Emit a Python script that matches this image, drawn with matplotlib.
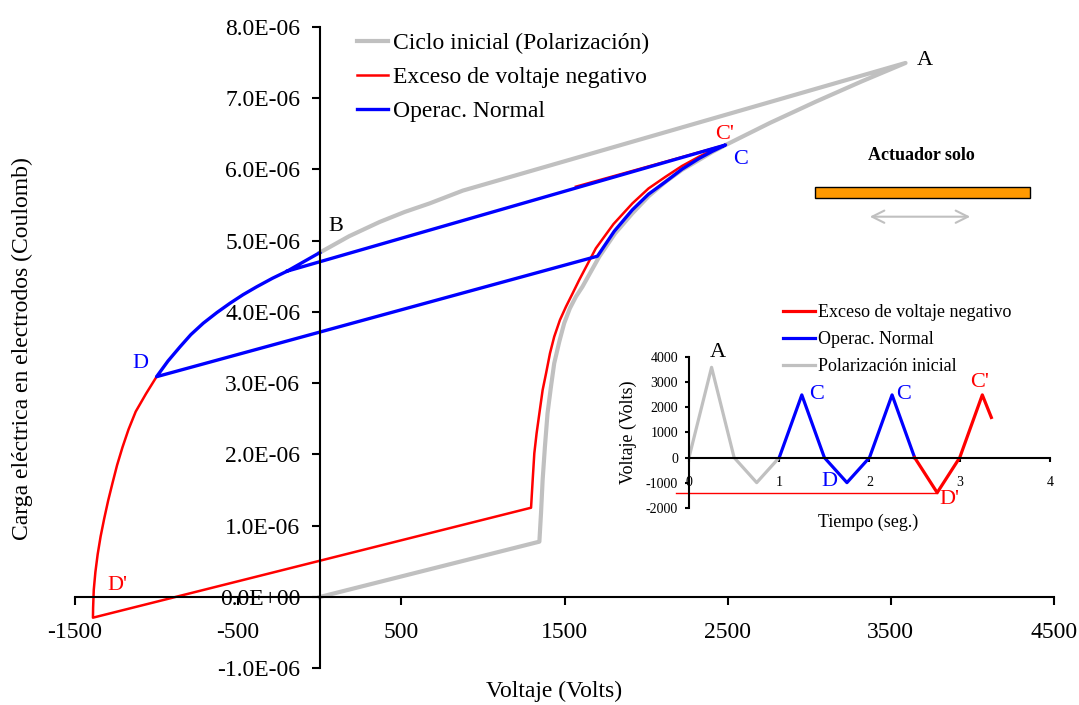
import matplotlib
matplotlib.use("Agg")
import matplotlib.pyplot as plt
from matplotlib.patches import Rectangle
from matplotlib.ticker import FuncFormatter, MultipleLocator

plt.rcParams['font.family'] = ['Liberation Serif', 'DejaVu Serif']
plt.rcParams['axes.unicode_minus'] = False

# Ciclo inicial (polarización): voltaje (V) y carga (µC)
gray_v = [0, 1346, 1356, 1366, 1380, 1396, 1417, 1437, 1468, 1498, 1533, 1570, 1610, 1713, 1810,
          1916, 2015, 2120, 2220, 2324, 2405, 2487, 2760, 3040, 3320, 3590,
          877, 673, 520, 367, 180, 0]
gray_q = [0, 0.776, 1.174, 1.641, 2.108, 2.576, 2.95, 3.278, 3.581, 3.839, 4.049, 4.212, 4.352, 4.773, 5.10,
          5.381, 5.62, 5.825, 5.99, 6.129, 6.24, 6.339, 6.65, 6.947, 7.23, 7.49,
          5.70, 5.52, 5.40, 5.26, 5.06, 4.83]

# Exceso de voltaje negativo
red_v = [-1000, -1065, -1128, -1172, -1209, -1242, -1270, -1297, -1321, -1343, -1361, -1375, -1385,
         -1389, -1390,
         1295, 1305, 1315, 1329, 1346, 1366, 1387, 1411, 1437, 1472, 1509, 1550, 1590, 1692, 1800,
         1916, 2015, 2120, 2220, 2324, 2405, 2487, 1570]
red_q = [3.09, 2.85, 2.6, 2.35, 2.1, 1.85, 1.6, 1.35, 1.1, 0.85, 0.6, 0.35, 0.1,
         -0.15, -0.29,
         1.252, 1.641, 2.015, 2.296, 2.576, 2.903, 3.137, 3.418, 3.651, 3.885, 4.072, 4.26, 4.446, 4.89, 5.23,
         5.52, 5.73, 5.895, 6.045, 6.175, 6.265, 6.34, 5.755]

# Operación normal
blue_v = [0, -200, -290, -387, -470, -550, -630, -714, -790, -856, -930, -1000,
          1702, 1805, 1916, 2015, 2120, 2220, 2324, 2405, 2487, -200]
blue_q = [4.83, 4.57, 4.47, 4.35, 4.24, 4.12, 3.99, 3.84, 3.68, 3.51, 3.31, 3.09,
          4.78, 5.13, 5.43, 5.65, 5.825, 6.0, 6.15, 6.25, 6.34, 4.57]

# inserto: voltaje en el tiempo
t_gray = [0, 0.25, 0.5, 0.75, 1.0]
v_gray = [0, 3600, 0, -1000, 0]
t_blue = [1.0, 1.25, 1.5, 1.75, 2.0, 2.25, 2.5]
v_blue = [0, 2500, 0, -1000, 0, 2500, 0]
t_red = [2.5, 2.75, 3.0, 3.25, 3.35]
v_red = [0, -1400, 0, 2500, 1600]
ref_t = [-0.14, 2.75]
ref_v = [-1400, -1400]

GRAY = '#C0C0C0'
RED = '#FF0000'
BLUE = '#0000FF'

W, H = 1079, 705
fig = plt.figure(figsize=(W / 100, H / 100), dpi=100)

# ---- gráfico principal ----
ax = fig.add_axes([75 / W, 36.7 / H, 979 / W, 641.7 / H])
ax.plot(gray_v, [q * 1e-6 for q in gray_q], color=GRAY, lw=3, label='Ciclo inicial (Polarización)')
ax.plot(red_v, [q * 1e-6 for q in red_q], color=RED, lw=1.8, label='Exceso de voltaje negativo')
ax.plot(blue_v, [q * 1e-6 for q in blue_q], color=BLUE, lw=2.4, label='Operac. Normal')
ax.set_xlim(-1500, 4500)
ax.set_ylim(-1e-6, 8e-6)
ax.spines['left'].set_position(('data', 0))
ax.spines['bottom'].set_position(('data', 0))
ax.spines['top'].set_visible(False)
ax.spines['right'].set_visible(False)
for s in ('left', 'bottom'):
    ax.spines[s].set_linewidth(1.5)
ax.set_xticks([-1500, -500, 500, 1500, 2500, 3500, 4500])
ax.yaxis.set_major_locator(MultipleLocator(1e-6))
ax.yaxis.set_major_formatter(FuncFormatter(lambda v, p: f'{v:.1E}'))
ax.tick_params(axis='both', direction='out', length=6, width=1.5, labelsize=17)
ax.tick_params(axis='x', pad=12)
ax.tick_params(axis='y', pad=8)
ax.patch.set_visible(False)

fig.text(554 / W, 1 - 691 / H, 'Voltaje (Volts)', ha='center', va='center', fontsize=17)
fig.text(22 / W, 1 - 349 / H, 'Carga eléctrica en electrodos (Coulomb)', rotation=90,
         ha='center', va='center', fontsize=17)

ax.legend(loc='upper left', bbox_to_anchor=(356.7 / W, 1 - 33 / H), bbox_transform=fig.transFigure,
          frameon=False, fontsize=17, handlelength=1.34, handletextpad=0.2, labelspacing=0.52,
          borderpad=0, borderaxespad=0)

ax.text(3706, 7.53e-6, 'A', fontsize=16, ha='center', va='center')
ax.text(98, 5.19e-6, 'B', fontsize=16, ha='center', va='center')
ax.text(2483, 6.48e-6, "C'", fontsize=16, ha='center', va='center', color=RED)
ax.text(2579, 6.13e-6, 'C', fontsize=16, ha='center', va='center', color=BLUE)
ax.text(-1101, 3.28e-6, 'D', fontsize=16, ha='center', va='center', color=BLUE)
ax.text(-1243, 0.168e-6, "D'", fontsize=16, ha='center', va='center', color=RED)

# actuador solo
fig.text(921.7 / W, 1 - 156 / H, 'Actuador solo', ha='center', va='center', fontsize=13, fontweight='bold')
fig.patches.append(Rectangle((815 / W, 1 - 198.3 / H), 215 / W, 11 / H, transform=fig.transFigure,
                             facecolor='#FF9900', edgecolor='black', lw=1))
ax.annotate('', xy=(973 / W, 1 - 216.7 / H), xytext=(867 / W, 1 - 216.7 / H),
            xycoords='figure fraction', textcoords='figure fraction',
            arrowprops=dict(arrowstyle='<->', color=GRAY, lw=1.5, mutation_scale=22))

# ---- inserto ----
ax2 = fig.add_axes([689 / W, 1 - 507.7 / H, 361 / W, 150.4 / H])
ax2.patch.set_visible(False)
lg = ax2.plot(t_gray, v_gray, color=GRAY, lw=2.3, label='Polarización inicial')[0]
lb = ax2.plot(t_blue, v_blue, color=BLUE, lw=2.3, label='Operac. Normal')[0]
lr = ax2.plot(t_red, v_red, color=RED, lw=2.3, label='Exceso de voltaje negativo')[0]
ax2.plot(ref_t, ref_v, color=RED, lw=1, clip_on=False)
ax2.set_xlim(0, 4)
ax2.set_ylim(-2000, 4000)
ax2.spines['bottom'].set_position(('data', 0))
ax2.spines['top'].set_visible(False)
ax2.spines['right'].set_visible(False)
for s in ('left', 'bottom'):
    ax2.spines[s].set_linewidth(1.5)
ax2.set_xticks([0, 1, 2, 3, 4])
ax2.yaxis.set_major_locator(MultipleLocator(1000))
ax2.tick_params(axis='both', direction='out', length=3, width=1.5, labelsize=10)
ax2.tick_params(axis='x', pad=10)
ax2.tick_params(axis='y', pad=5)

fig.text(628 / W, 1 - 432 / H, 'Voltaje (Volts)', rotation=90, ha='center', va='center', fontsize=13)
fig.text(868 / W, 1 - 522 / H, 'Tiempo (seg.)', ha='center', va='center', fontsize=13)

ax2.legend(handles=[lr, lb, lg], loc='upper left', bbox_to_anchor=(782.7 / W, 1 - 304 / H),
           bbox_transform=fig.transFigure, frameon=False, fontsize=13, handlelength=1.8,
           handletextpad=0.18, labelspacing=0.55, borderpad=0, borderaxespad=0)

ax2.text(0.325, 4176, 'A', fontsize=16, ha='center', va='center')
ax2.text(1.415, 2508, 'C', fontsize=16, ha='center', va='center', color=BLUE)
ax2.text(2.375, 2508, 'C', fontsize=16, ha='center', va='center', color=BLUE)
ax2.text(1.555, -960, 'D', fontsize=16, ha='center', va='center', color=BLUE)
ax2.text(3.224, 2976, "C'", fontsize=16, ha='center', va='center', color=RED)
ax2.text(2.89, -1692, "D'", fontsize=16, ha='center', va='center', color=RED)

fig.savefig('out.png', dpi=100)
